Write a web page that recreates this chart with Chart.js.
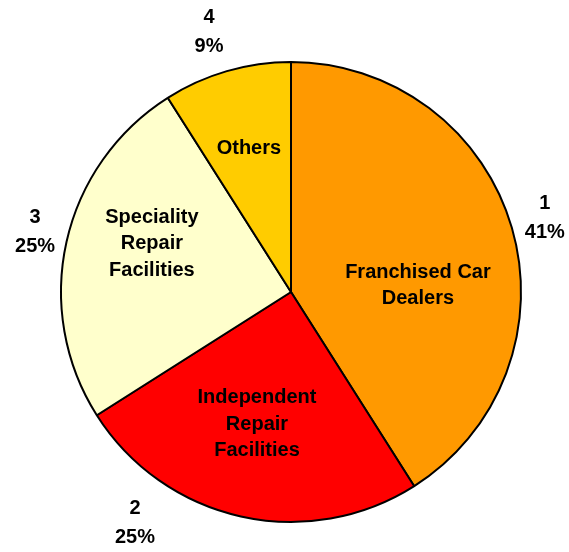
<!DOCTYPE html>
<html>
<head>
<meta charset="utf-8">
<script src="https://cdn.jsdelivr.net/npm/chart.js@4/dist/chart.umd.min.js"></script>
<style>
html,body{margin:0;padding:0;background:#fff;}
#wrap{width:569px;height:552px;}
</style>
</head>
<body>
<div id="wrap"><canvas id="c" width="569" height="552"></canvas></div>
<script>
const categories = ['Franchised Car Dealers', 'Independent Repair Facilities', 'Speciality Repair Facilities', 'Others'];
const sliceLines = [['Franchised Car', 'Dealers'], ['Independent', 'Repair', 'Facilities'], ['Speciality', 'Repair', 'Facilities'], ['Others']];
const sliceIds = ['1', '2', '3', '4'];
const values = [41, 25, 25, 9];
const colors = ['#FF9900', '#FF0000', '#FFFFCC', '#FFCC00'];

// label placement: [radius fraction, angle shift in degrees]
const innerPlace = [[0.553, 12.6], [0.587, 2.0], [0.642, 7.0], [0.656, 0]];
const outerPlace = [[1.151, -0.3], [1.207, 21.6], [1.145, 1.0], [1.192, -1.2]];

const labelPlugin = {
  id: 'sliceLabels',
  afterDatasetsDraw(chart) {
    const ctx = chart.ctx;
    const meta = chart.getDatasetMeta(0);
    const total = values.reduce((a, b) => a + b, 0);
    const fs = 20;
    const capHalf = Math.round(fs * 0.72 / 2);
    ctx.save();
    ctx.fillStyle = '#000';
    ctx.font = 'bold ' + fs + 'px "Liberation Sans", Arial, sans-serif';
    ctx.textAlign = 'center';
    ctx.textBaseline = 'alphabetic';
    meta.data.forEach((arc, i) => {
      const p = arc.getProps(['x', 'y', 'startAngle', 'endAngle', 'outerRadius'], true);
      const mid = (p.startAngle + p.endAngle) / 2;
      // inner
      let a = mid + innerPlace[i][1] * Math.PI / 180;
      let r = p.outerRadius * innerPlace[i][0];
      let cx = p.x + Math.cos(a) * r, cy = p.y + Math.sin(a) * r;
      const lines = sliceLines[i];
      const lh = 26.5;
      lines.forEach((t, k) => {
        ctx.fillText(t, cx, cy + capHalf + (k - (lines.length - 1) / 2) * lh);
      });
      // outer
      a = mid + outerPlace[i][1] * Math.PI / 180;
      r = p.outerRadius * outerPlace[i][0];
      cx = p.x + Math.cos(a) * r; cy = p.y + Math.sin(a) * r;
      const pct = Math.round(values[i] / total * 100) + '%';
      const olh = 29;
      ctx.fillText(sliceIds[i], cx, cy + capHalf - olh / 2);
      ctx.fillText(pct, cx, cy + capHalf + olh / 2);
    });
    ctx.restore();
  }
};

new Chart(document.getElementById('c'), {
  type: 'pie',
  data: {
    labels: categories,
    datasets: [{
      data: values,
      backgroundColor: colors,
      borderColor: '#000',
      borderWidth: 2
    }]
  },
  options: {
    responsive: false,
    animation: false,
    layout: { padding: { left: 60, right: 47, top: 61, bottom: 29 } },
    plugins: { legend: { display: false }, tooltip: { enabled: false } }
  },
  plugins: [labelPlugin]
});
</script>
</body>
</html>
